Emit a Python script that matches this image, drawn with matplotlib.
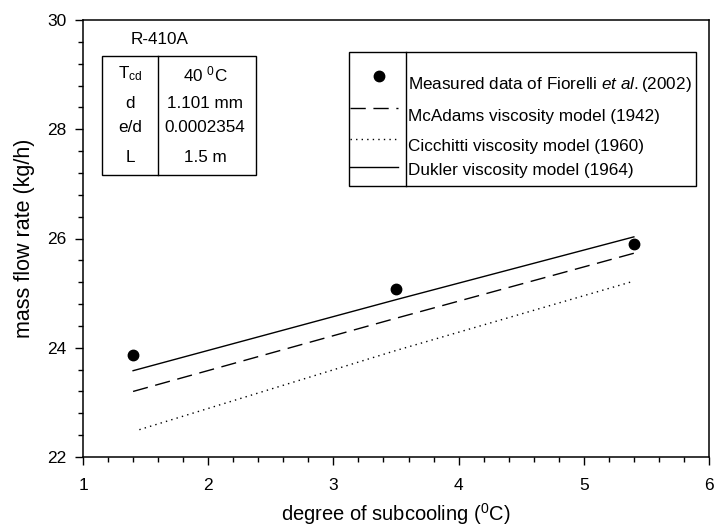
import matplotlib
matplotlib.use('Agg')
import matplotlib.pyplot as plt
from matplotlib.ticker import MultipleLocator
from matplotlib.patches import Rectangle

plt.rcParams['font.family'] = ['Liberation Sans', 'DejaVu Sans']
plt.rcParams['mathtext.fontset'] = 'custom'
plt.rcParams['mathtext.rm'] = 'Liberation Sans'
plt.rcParams['mathtext.it'] = 'Liberation Sans:italic'

# datos
x_medido = [1.4, 3.5, 5.4]
y_medido = [23.87, 25.07, 25.90]

x_modelo = [1.4, 3.5, 5.4]
y_mcadams = [23.20, 24.54, 25.73]
y_dukler = [23.58, 24.88, 26.03]
x_cicchitti = [1.45, 3.5, 5.4]
y_cicchitti = [22.50, 23.95, 25.22]

etiquetas = ['Measured data of Fiorelli $\\it{et\\ al.}$(2002)',
             'McAdams viscosity model (1942)',
             'Cicchitti viscosity model (1960)',
             'Dukler viscosity model (1964)']

tabla_nombres = ['T$_{\\rm cd}$', 'd', 'e/d', 'L']
tabla_valores = ['40 $^{\\rm 0}$C', '1.101 mm', '0.0002354', '1.5 m']

fig = plt.figure(figsize=(7.15, 5.29), dpi=100)
ax = fig.add_axes([83/715, 1-457/529, 626/715, 437/529])

ax.plot(x_medido, y_medido, 'o', color='black', ms=7.5, zorder=5)
ax.plot(x_modelo, y_mcadams, color='black', lw=1, linestyle=(0, (11, 5.5)))
ax.plot(x_cicchitti, y_cicchitti, color='black', lw=1, linestyle=(0, (1, 3)))
ax.plot(x_modelo, y_dukler, color='black', lw=1)

ax.set_xlim(1, 6)
ax.set_ylim(22, 30)
ax.xaxis.set_major_locator(MultipleLocator(1))
ax.xaxis.set_minor_locator(MultipleLocator(0.2))
ax.yaxis.set_major_locator(MultipleLocator(2))
ax.yaxis.set_minor_locator(MultipleLocator(0.4))
ax.tick_params(which='both', direction='out', top=False, right=False, labelsize=12.5, width=1)
ax.tick_params(which='major', length=6)
ax.tick_params(which='minor', length=3.5)
ax.tick_params(axis='x', which='major', pad=9)
ax.tick_params(axis='y', which='major', pad=6)
ax.set_xlabel('degree of subcooling ($^{\\rm 0}$C)', fontsize=14.5, labelpad=6)
ax.set_ylabel('mass flow rate (kg/h)', fontsize=15.5, labelpad=9)
for s in ax.spines.values():
    s.set_linewidth(1.1)

# leyenda manual con division vertical
def px(xp, yp):
    return (xp - 83) / 626, (457 - yp) / 437

tr = ax.transAxes
x0, y0 = px(349, 186)
x1, y1 = px(696, 52)
ax.add_patch(Rectangle((x0, y0), x1 - x0, y1 - y0, transform=tr, fill=False, lw=1, color='black'))
xd, _ = px(406, 0)
ax.plot([xd, xd], [y0, y1], transform=tr, color='black', lw=1)

filas_y = [76, 108, 139, 167]
texto_y = [85, 117, 147, 171]
estilos = ['-', (0, (11, 5.5)), (0, (1, 3)), '-']
for i, et in enumerate(etiquetas):
    _, yy = px(0, filas_y[i])
    if i == 0:
        xm, _ = px(379, 0)
        ax.plot([xm], [yy], 'o', transform=tr, color='black', ms=7.5)
    else:
        xa, _ = px(350, 0)
        xb, _ = px(398, 0)
        ax.plot([xa, xb], [yy, yy], transform=tr, color='black', lw=1, linestyle=estilos[i])
    xt, yt = px(408, texto_y[i])
    ax.text(xt, yt, et, transform=tr, fontsize=12.3, va='center', ha='left')

# tabla de parametros
tx0, ty0 = px(102, 175)
tx1, ty1 = px(256, 56)
ax.add_patch(Rectangle((tx0, ty0), tx1 - tx0, ty1 - ty0, transform=tr, fill=False, lw=1, color='black'))
tdx, _ = px(158, 0)
ax.plot([tdx, tdx], [ty0, ty1], transform=tr, color='black', lw=1)
xr, yr = px(160, 40)
ax.text(xr, yr, 'R-410A', transform=tr, fontsize=12.3, ha='center', va='center')
tabla_y = [74, 103, 128, 158]
for i in range(4):
    xa, ya = px(130, tabla_y[i])
    ax.text(xa, ya, tabla_nombres[i], transform=tr, fontsize=12.3, ha='center', va='center')
    xb, _ = px(205, 0)
    ax.text(xb, ya, tabla_valores[i], transform=tr, fontsize=12.3, ha='center', va='center')

fig.savefig('out.png', dpi=100)
